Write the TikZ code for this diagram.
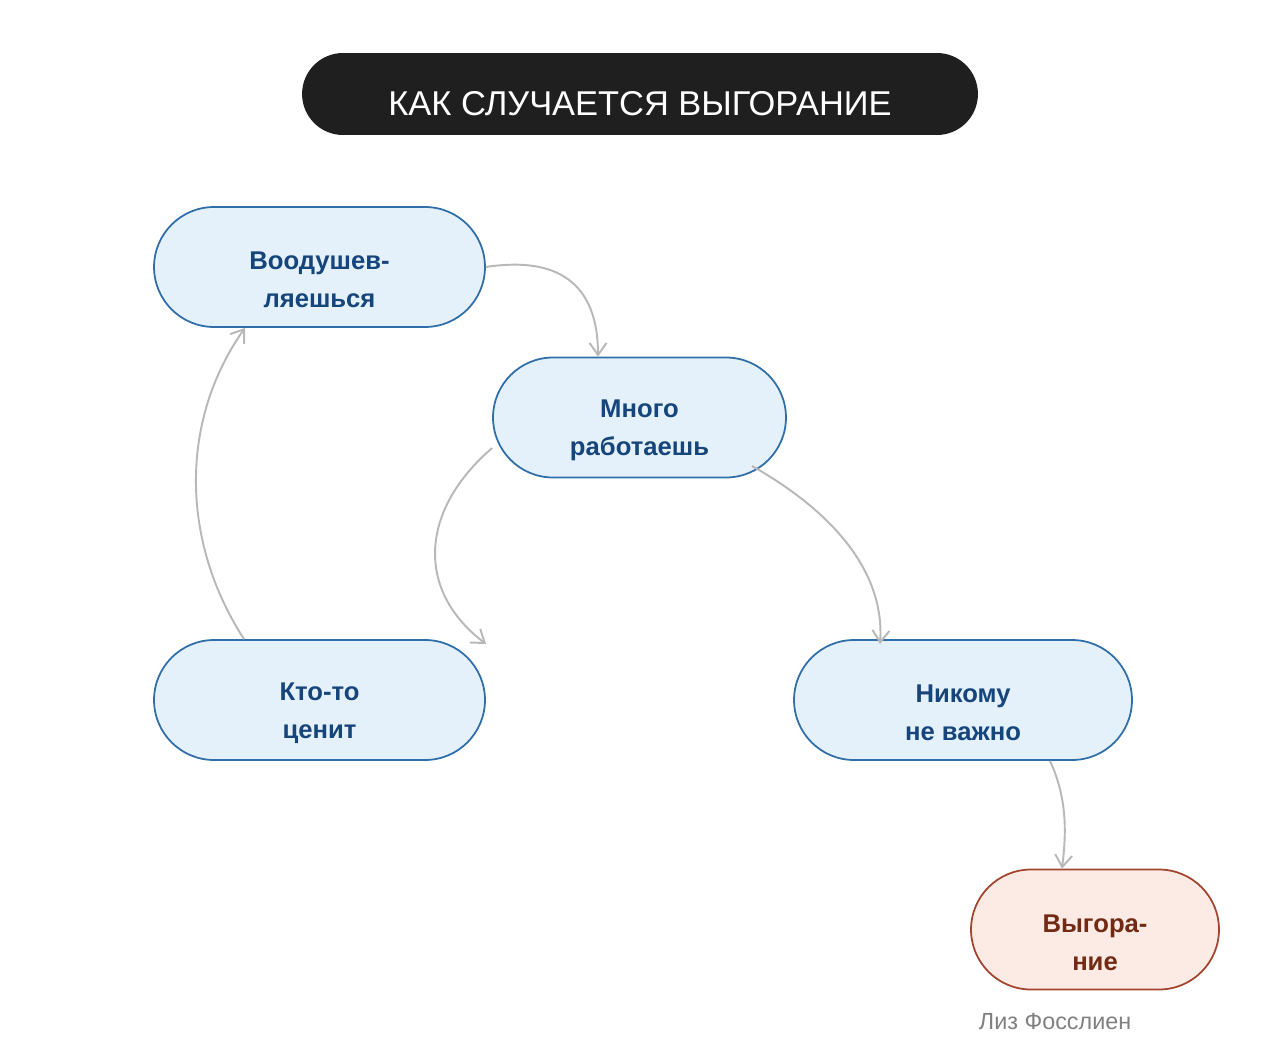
\documentclass[tikz,border=0pt]{standalone}
\usepackage{fontspec}
\setmainfont{Liberation Sans}
\usetikzlibrary{arrows.meta,positioning}

\definecolor{stepfill}{HTML}{E4F0FA}
\definecolor{stepline}{HTML}{2F6EA8}
\definecolor{steptext}{HTML}{15457A}
\definecolor{burnfill}{HTML}{FBEBE4}
\definecolor{burnline}{HTML}{A2452E}
\definecolor{burntext}{HTML}{722A14}
\definecolor{flowline}{HTML}{B8B8B8}

% strut that sets the two text lines a little low in the box
\newcommand{\boxgap}{\rule{0pt}{25pt}}

\begin{document}
\begin{tikzpicture}[
  x=0.02cm, y=-0.02cm,
  font=\fontsize{14.6pt}{21.5pt}\selectfont\bfseries,
  >={Straight Barb[length=2.4mm,width=3.4mm]}, line width=1.1pt,
  stepbox/.style={rectangle, minimum height=2.4cm, draw=stepline, fill=stepfill, text=steptext, rounded corners=1.2cm, align=center, line width=1pt},
  burnbox/.style={stepbox, draw=burnline, fill=burnfill, text=burntext},
  titlebox/.style={rectangle, minimum height=1.64cm, minimum width=13.52cm, fill=black!88, text=white, rounded corners=0.82cm, font=\fontsize{19.6pt}{24pt}\selectfont},
  flow/.style={->, draw=flowline}
]
\useasboundingbox (0,0) rectangle (1280,1054);

\node[titlebox] (title) at (640,94) {\boxgap КАК СЛУЧАЕТСЯ ВЫГОРАНИЕ};

\node[stepbox, minimum width=6.62cm] (inspired) at (319.5,267) {\boxgap Воодушев-\\ляешься};
\node[stepbox, minimum width=5.86cm] (work) at (639.5,417.5) {\boxgap Много\\работаешь};
\node[stepbox, minimum width=6.62cm] (valued) at (319.5,700) {\boxgap Кто-то\\ценит};
\node[stepbox, minimum width=6.76cm] (nobody) at (963,700) {\boxgap Никому\\не важно};
\node[burnbox, minimum width=4.96cm] (burnout) at (1095,929.5) {\boxgap Выгора-\\ние};

\node[text=black!50, font=\fontsize{13.3pt}{15pt}\selectfont, anchor=west, inner sep=0pt] (author) at (978,1022) {Лиз Фосслиен};

\coordinate (valuedin) at (486,644);
\coordinate (nobodyin) at (880,644);

\draw[flow] (inspired.east) .. controls (565,255) and (598,290) .. (work.north -| 598,0);
\draw[flow] (work.west |- 0,448) .. controls (420,510) and (415,590) .. (valuedin);
\draw[flow] (752,466) .. controls (830,510) and (885,570) .. (nobodyin);
\draw[flow] (nobody.south -| 1050,0) .. controls (1068,800) and (1066,835) .. (burnout.north -| 1062,0);
\draw[flow] (valued.north -| 244,0) .. controls (180,540) and (180,420) .. (inspired.south -| 245,0);

\end{tikzpicture}
\end{document}
